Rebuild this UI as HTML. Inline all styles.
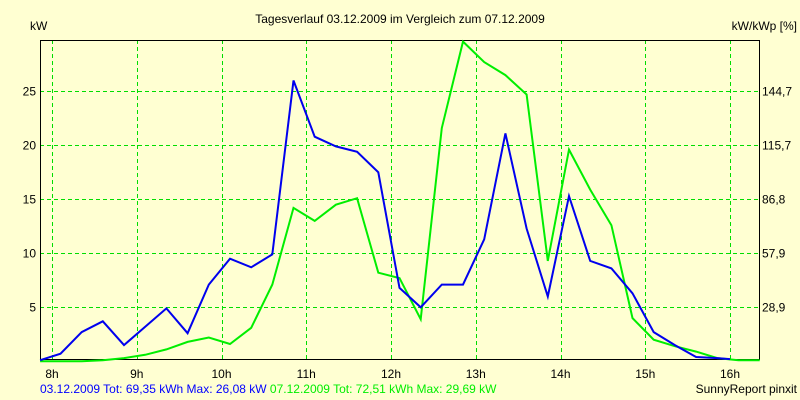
<!DOCTYPE html>
<html><head><meta charset="utf-8"><style>
body{margin:0;background:#ffffd2;}
svg{display:block;font-family:"Liberation Sans",sans-serif;font-size:12px;}
</style></head><body>
<svg id="chart" width="800" height="400" viewBox="0 0 800 400">
<rect width="800" height="400" fill="#ffffd2"/>
<text x="400" y="23" text-anchor="middle" fill="#000">Tagesverlauf 03.12.2009 im Vergleich zum 07.12.2009</text>
<text x="30" y="30" fill="#000">kW</text>
<text x="797" y="30" text-anchor="end" fill="#000">kW/kWp [%]</text>
<g id="grid"></g>
<g id="axes"></g>
<g id="series"></g>
<text x="40" y="393" fill="#0000ff">03.12.2009 Tot: 69,35 kWh Max: 26,08 kW <tspan fill="#00ee00">07.12.2009 Tot: 72,51 kWh Max: 29,69 kW</tspan></text>
<text x="797" y="393" text-anchor="end" fill="#000">SunnyReport pinxit</text>
</svg>
<script>
const hourTicks=[8,9,10,11,12,13,14,15,16];
const kwTicks=[5,10,15,20,25];
const pctLabels=["28,9","57,9","86,8","115,7","144,7"];
const timesBlue=[7.86,8.1,8.35,8.6,8.85,9.1,9.35,9.6,9.85,10.1,10.35,10.6,10.85,11.1,11.35,11.6,11.85,12.1,12.35,12.6,12.85,13.1,13.35,13.6,13.85,14.1,14.35,14.6,14.85,15.1,15.35,15.6,15.85,16.0];
const valuesBlue=[0.1,0.7,2.7,3.7,1.5,3.2,4.9,2.6,7.1,9.5,8.7,9.9,26.0,20.8,19.9,19.4,17.5,6.8,5.0,7.1,7.1,11.3,21.1,12.3,6.0,15.3,9.3,8.6,6.3,2.7,1.5,0.4,0.3,0.2];
const timesGreen=[7.86,8.1,8.35,8.6,8.85,9.1,9.35,9.6,9.85,10.1,10.35,10.6,10.85,11.1,11.35,11.6,11.85,12.1,12.35,12.6,12.85,13.1,13.35,13.6,13.85,14.1,14.35,14.6,14.85,15.1,15.35,15.6,15.85,16.1,16.35];
const valuesGreen=[0,0,0,0.1,0.3,0.6,1.1,1.8,2.2,1.6,3.1,7.1,14.2,13.0,14.5,15.1,8.2,7.7,3.9,21.6,29.6,27.7,26.5,24.7,9.3,19.6,15.9,12.6,4.0,2.0,1.4,0.9,0.3,0.1,0.1];

const X0=40,X1=759,Y0=40,Y1=359;
function xs(t){return 52+84.75*(t-8);}
function ys(v){return 361.3-10.8*v;}
const NS="http://www.w3.org/2000/svg";
function mk(tag,attrs,parent){const e=document.createElementNS(NS,tag);for(const k in attrs)e.setAttribute(k,attrs[k]);parent.appendChild(e);return e;}
const grid=document.getElementById('grid'),axes=document.getElementById('axes'),series=document.getElementById('series');
hourTicks.forEach(h=>{
  const x=Math.round(xs(h))+0.5;
  const l=mk('line',{x1:x,x2:x,y1:Y0,y2:Y1,stroke:'#00dd00','stroke-dasharray':'4,3'},grid);
  
  
  const t=mk('text',{x:xs(h),y:378,'text-anchor':'middle',fill:'#000'},axes);
  t.textContent=h+'h';
  
  
});
kwTicks.forEach((v,i)=>{
  const y=Math.round(ys(v))+0.5;
  const l=mk('line',{x1:X0,x2:X1,y1:y,y2:y,stroke:'#00dd00','stroke-dasharray':'4,3'},grid);
  
  
  const t=mk('text',{x:36,y:ys(v)+4,'text-anchor':'end',fill:'#000'},axes);
  t.textContent=v;
  
  
  const r=mk('text',{x:762,y:ys(v)+4,fill:'#000'},axes);
  r.textContent=pctLabels[i];
  
  
});
const frame=mk('path',{d:`M${X0+0.5},${Y0+0.5}H${X1+0.5}V${Y1+0.5}H${X0+0.5}Z`,fill:'none',stroke:'#000','stroke-width':1},axes);


function line(times,vals,color,name){
  const pts=times.map((t,i)=>xs(t).toFixed(1)+','+ys(vals[i]).toFixed(1)).join(' ');
  const p=mk('polyline',{points:pts,fill:'none',stroke:color,'stroke-width':2,'stroke-linejoin':'miter'},series);
  
  
}
line(timesGreen,valuesGreen,'#00ee00','series-07-12-2009');
line(timesBlue,valuesBlue,'#0000ee','series-03-12-2009');
</script>
</body></html>
